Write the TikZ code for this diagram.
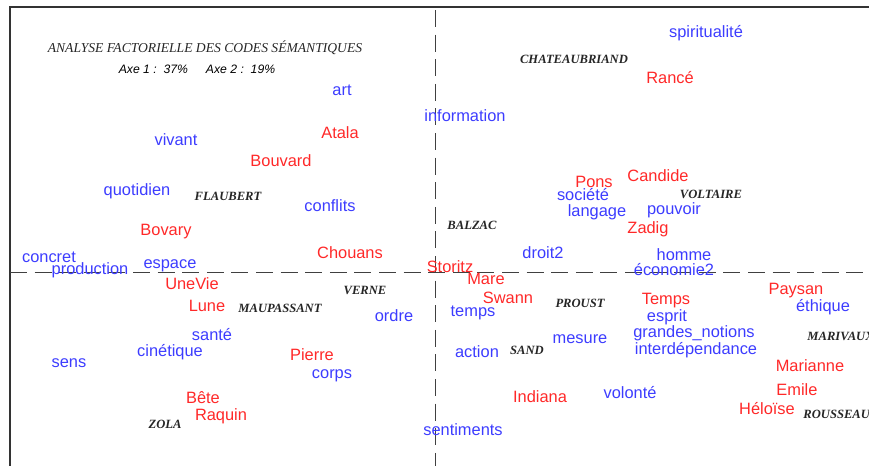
\documentclass[tikz,border=0pt]{standalone}
\usepackage{fontspec}
\setmainfont{Liberation Serif}
\setsansfont{Liberation Sans}

\definecolor{motrouge}{RGB}{255,40,40}
\definecolor{motbleu}{RGB}{60,60,255}

\begin{document}
\begin{tikzpicture}[x=0.5pt,y=-0.5pt,
    oeuvre/.style={inner sep=0pt,text=motrouge,font=\sffamily\fontsize{8.2}{9}\selectfont},
    code/.style={inner sep=0pt,text=motbleu,font=\sffamily\fontsize{8.2}{9}\selectfont},
    auteur/.style={inner sep=0pt,text=black!85,font=\rmfamily\bfseries\itshape\fontsize{6.3}{7}\selectfont},
    axe/.style={dash pattern=on 8.5pt off 3.8pt,line width=0.5pt,black!75}]
    \useasboundingbox (0,0) rectangle (869,466);
    \clip (0,0) rectangle (869,466);
    % cadre et axes
    \draw[line width=1pt,black!80] (890,7) -- (10,7) -- (10,480);
    \draw[axe] (10,272) -- (869,272);
    \draw[axe] (435,10) -- (435,466);
    % titre
    \node[auteur,font=\rmfamily\itshape\fontsize{6.8}{7}\selectfont] (titre) at (205,48) {ANALYSE FACTORIELLE DES CODES SÉMANTIQUES};
    \node[inner sep=0pt,font=\sffamily\itshape\fontsize{6.1}{7}\selectfont] (inertie) at (197,69) {Axe 1 :\ \ 37\%\hspace{9pt}Axe 2 :\ \ 19\%};
    % auteurs
    \node[auteur] (flaubert) at (228,196) {FLAUBERT};
    \node[auteur] (chateaubriand) at (574,59) {CHATEAUBRIAND};
    \node[auteur] (voltaire) at (711,194) {VOLTAIRE};
    \node[auteur] (balzac) at (472,225) {BALZAC};
    \node[auteur] (verne) at (365,290) {VERNE};
    \node[auteur] (maupassant) at (280,308) {MAUPASSANT};
    \node[auteur] (proust) at (580,303) {PROUST};
    \node[auteur] (sand) at (527,350) {SAND};
    \node[auteur] (zola) at (165,424) {ZOLA};
    \node[auteur,anchor=west] (marivaux) at (807,336) {MARIVAUX};
    \node[auteur,anchor=west] (rousseau) at (803,414) {ROUSSEAU};
    % oeuvres
    \node[oeuvre] (atala) at (340,133) {Atala};
    \node[oeuvre] (bouvard) at (281,161) {Bouvard};
    \node[oeuvre] (bovary) at (166,232) {Bovary};
    \node[oeuvre] (chouans) at (350,253) {Chouans};
    \node[oeuvre] (unevie) at (192,284) {UneVie};
    \node[oeuvre] (lune) at (207,306) {Lune};
    \node[oeuvre] (pierre) at (312,355) {Pierre};
    \node[oeuvre] (bete) at (203,398) {Bête};
    \node[oeuvre] (raquin) at (221,416) {Raquin};
    \node[oeuvre] (rance) at (670,78) {Rancé};
    \node[oeuvre] (pons) at (594,182) {Pons};
    \node[oeuvre] (candide) at (658,176) {Candide};
    \node[oeuvre] (zadig) at (648,229) {Zadig};
    \node[oeuvre] (storitz) at (450,267) {Storitz};
    \node[oeuvre] (mare) at (486,279) {Mare};
    \node[oeuvre] (swann) at (508,298) {Swann};
    \node[oeuvre] (tempsr) at (666,301) {Temps};
    \node[oeuvre] (paysan) at (796,291) {Paysan};
    \node[oeuvre] (marianne) at (810,366) {Marianne};
    \node[oeuvre] (indiana) at (540,397) {Indiana};
    \node[oeuvre] (emile) at (797,390) {Emile};
    \node[oeuvre] (heloise) at (767,409) {Héloïse};
    % codes
    \node[code] (art) at (342,90) {art};
    \node[code] (information) at (465,116) {information};
    \node[code] (vivant) at (176,140) {vivant};
    \node[code] (quotidien) at (137,191) {quotidien};
    \node[code] (conflits) at (330,206) {conflits};
    \node[code] (concret) at (49,257) {concret};
    \node[code] (production) at (90,270) {production};
    \node[code] (espace) at (170,266) {espace};
    \node[code] (ordre) at (394,316) {ordre};
    \node[code] (sante) at (212,335) {santé};
    \node[code] (cinetique) at (170,352) {cinétique};
    \node[code] (sens) at (69,363) {sens};
    \node[code] (corps) at (332,376) {corps};
    \node[code] (spiritualite) at (706,33) {spiritualité};
    \node[code] (societe) at (583,195) {société};
    \node[code] (langage) at (597,212) {langage};
    \node[code] (pouvoir) at (674,210) {pouvoir};
    \node[code] (droit) at (543,253) {droit2};
    \node[code] (homme) at (684,255) {homme};
    \node[code] (economie) at (674,270) {économie2};
    \node[code] (ethique) at (823,307) {éthique};
    \node[code] (temps) at (473,313) {temps};
    \node[code] (esprit) at (667,317) {esprit};
    \node[code] (notions) at (694,333) {grandes\_notions};
    \node[code] (interdependance) at (696,350) {interdépendance};
    \node[code] (action) at (477,352) {action};
    \node[code] (mesure) at (580,339) {mesure};
    \node[code] (volonte) at (630,393) {volonté};
    \node[code] (sentiments) at (463,430) {sentiments};
\end{tikzpicture}
\end{document}
